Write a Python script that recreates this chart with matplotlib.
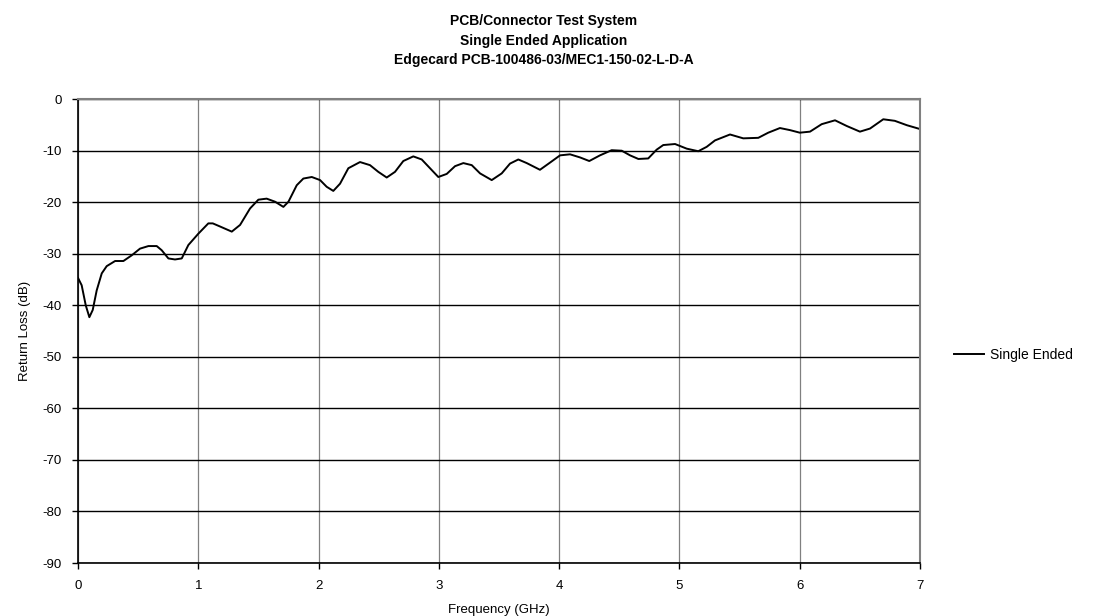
import numpy as np
import matplotlib.pyplot as plt

plt.rcParams['font.family'] = ['Liberation Sans', 'DejaVu Sans']
plt.rcParams['axes.unicode_minus'] = False

# Frequency (GHz) and return loss (dB)
freq = [0.0, 0.03, 0.064, 0.094, 0.122, 0.155, 0.197, 0.238, 0.308, 0.377, 0.446,
        0.515, 0.585, 0.654, 0.695, 0.751, 0.806, 0.862, 0.917, 1.0, 1.083, 1.12,
        1.18, 1.278, 1.347, 1.43, 1.499, 1.568, 1.638, 1.707, 1.749, 1.818, 1.873,
        1.943, 2.012, 2.067, 2.122, 2.178, 2.247, 2.344, 2.427, 2.496, 2.566, 2.635,
        2.704, 2.787, 2.857, 2.926, 2.995, 3.065, 3.134, 3.203, 3.273, 3.342, 3.439,
        3.522, 3.591, 3.66, 3.73, 3.84, 3.924, 4.007, 4.09, 4.173, 4.25, 4.339,
        4.436, 4.52, 4.589, 4.658, 4.74, 4.81, 4.865, 4.963, 5.06, 5.156, 5.226,
        5.295, 5.42, 5.53, 5.655, 5.738, 5.835, 5.918, 6.0, 6.085, 6.182, 6.293,
        6.39, 6.5, 6.584, 6.694, 6.79, 6.89, 7.0]
loss = [-34.7, -36.1, -40.0, -42.3, -40.9, -37.1, -33.8, -32.4, -31.4, -31.4, -30.3,
        -29.0, -28.5, -28.5, -29.3, -30.9, -31.1, -30.9, -28.3, -26.1, -24.1, -24.1,
        -24.7, -25.7, -24.4, -21.2, -19.5, -19.3, -19.9, -20.9, -19.9, -16.7, -15.4,
        -15.1, -15.7, -17.0, -17.8, -16.4, -13.4, -12.2, -12.8, -14.1, -15.2, -14.1,
        -12.0, -11.1, -11.7, -13.4, -15.1, -14.5, -13.0, -12.4, -12.8, -14.4, -15.7,
        -14.4, -12.5, -11.7, -12.4, -13.7, -12.3, -10.9, -10.7, -11.3, -12.0, -10.9,
        -9.9, -10.0, -10.9, -11.6, -11.5, -9.8, -8.9, -8.7, -9.6, -10.1, -9.25,
        -8.0, -6.85, -7.6, -7.5, -6.5, -5.6, -6.0, -6.5, -6.3, -4.85, -4.1,
        -5.2, -6.3, -5.7, -3.9, -4.2, -5.05, -5.8]

fig = plt.figure(figsize=(11.04, 6.16), dpi=100)
ax = fig.add_axes([0.0707, 0.086, 0.7627, 0.753])

ax.plot(freq, loss, color='black', linewidth=1.4, label='Single Ended',
        solid_joinstyle='round')

ax.set_xlim(0, 7)
ax.set_ylim(-90, 0)
ax.set_xticks(np.arange(0, 8, 1))
ax.set_yticks(np.arange(-90, 1, 10))
ax.grid(True, axis='x', color='#808080', linewidth=0.9)
ax.grid(True, axis='y', color='black', linewidth=1.0)
ax.set_axisbelow(True)
for side in ['top', 'right']:
    ax.spines[side].set_color('#808080')
    ax.spines[side].set_linewidth(1.5)
for side in ['left', 'bottom']:
    ax.spines[side].set_color('black')
    ax.spines[side].set_linewidth(1.2)
ax.tick_params(direction='out', length=4, width=1, labelsize=9.5, pad=8)

ax.set_xlabel('Frequency (GHz)', fontsize=9.5, labelpad=9)
ax.set_ylabel('Return Loss (dB)', fontsize=9.5, labelpad=8)

fig.text(0.4925, 0.934, 'PCB/Connector Test System\nSingle Ended Application\nEdgecard PCB-100486-03/MEC1-150-02-L-D-A',
         ha='center', va='center', fontsize=10, fontweight='bold', linespacing=1.5)

ax.legend(loc='center left', bbox_to_anchor=(1.025, 0.448), frameon=False,
          fontsize=10, handlelength=2.2, handletextpad=0.4)

fig.savefig('out.png', dpi=100)
